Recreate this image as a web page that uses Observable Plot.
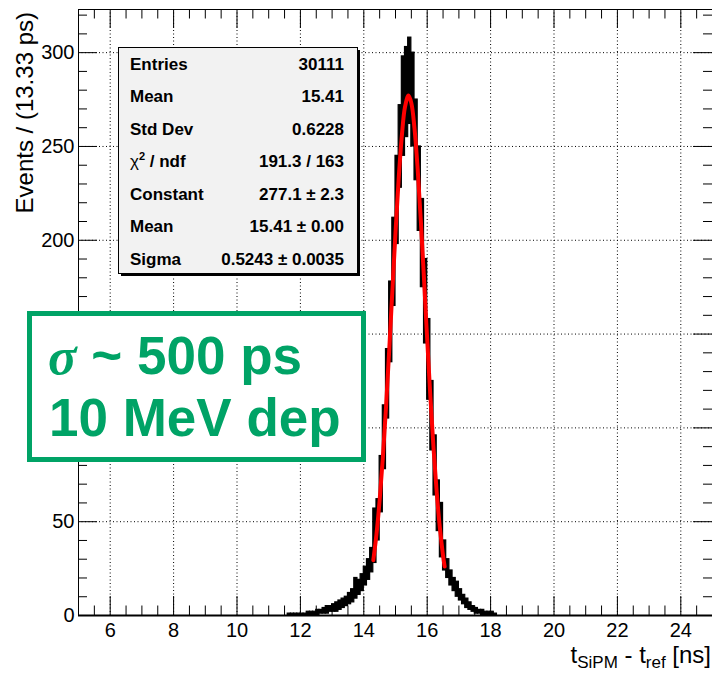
<!DOCTYPE html>
<html><head><meta charset="utf-8">
<script src="https://cdn.jsdelivr.net/npm/d3@7"></script>
<script src="https://cdn.jsdelivr.net/npm/@observablehq/plot@0.6"></script>
<style>
body{margin:0;background:#fff}
#chart{position:relative;width:712px;height:673px;overflow:hidden}
</style>
</head><body><div id="chart"></div>
<script>
// Histogram (coarse 0.1 ns slices): left edge, low and high of the drawn band
const binStart = [11.6,11.7,11.8,11.9,12.0,12.1,12.2,12.3,12.4,12.5,12.6,12.7,12.8,12.9,13.0,13.1,13.2,13.3,13.4,13.5,13.6,13.7,13.8,13.9,14.0,14.1,14.2,14.3,14.4,14.5,14.6,14.7,14.8,14.9,15.0,15.1,15.2,15.3,15.4,15.5,15.6,15.7,15.8,15.9,16.0,16.1,16.2,16.3,16.4,16.5,16.6,16.7,16.8,16.9,17.0,17.1,17.2,17.3,17.4,17.5,17.6,17.7,17.8,17.9,18.0,18.1];
const binLow   = [0,0,0,0,0,0,0,0,0,0,1,1,1,2,2,2,3,4,5,6,7,9,11,13,16,19,23,28,40,55,78,105,135,165,198,228,245,255,262,250,232,205,175,145,115,88,64,45,31,24,20,16,13,10,8,6,4,3,2,1,1,0,0,0,0,0];
const binHigh  = [1,1,1,1,1,1,2,2,2,3,3,4,5,5,6,7,8,9,10,12,14,20,19,22,26,30,36,57,62,85,112,142,178,212,245,272,298,303,308,300,275,250,222,190,158,125,96,72,60,40,30,24,20,18,14,11,9,7,5,4,3,3,2,2,2,1];
const binWidth = 0.1;

// Red Gaussian fit
const fitX = [14.3,14.4,14.5,14.6,14.7,14.8,14.9,15.0,15.1,15.2,15.3,15.41,15.5,15.6,15.7,15.8,15.9,16.0,16.1,16.2,16.3,16.4,16.5,16.55];
const fitY = [29.5,43.3,61.5,84.0,110.8,140.9,172.7,204.1,232.7,255.7,271.1,277.1,273.1,259.5,237.8,210.1,179.1,147.1,116.6,89.1,65.6,46.6,31.9,26.1];

// Axis ticks
const xMajor = [6,8,10,12,14,16,18,20,22,24];
const xMinor = d3.range(5, 25.01, 0.5).filter(d => !xMajor.includes(d));
const yMajor = [0,50,100,150,200,250,300];
const yLabels = [0,50,200,250,300]; // 100 and 150 are hidden behind the annotation box
const yMinor = d3.range(0, 321, 10).filter(d => d % 50 !== 0);

// Stats box
const statLabels = ["Entries","Mean","Std Dev","χ2 / ndf","Constant","Mean","Sigma"];
const statValues = ["30111","15.41","0.6228","191.3 / 163","277.1 ± 2.3","15.41 ± 0.00","0.5243 ± 0.0035"];

const hist = binStart.map((x, i) => ({x1: x, x2: +(x + binWidth).toFixed(2), lo: binLow[i], hi: binHigh[i]}));
const fit = fitX.map((x, i) => ({x, y: fitY[i]}));

const W = 712, H = 673, mL = 78, mR = 0, mT = 9, mB = 58;
const pW = W - mL - mR, pH = H - mT - mB;
const font = "'Liberation Sans', Arial, Helvetica, sans-serif";

const chart = Plot.plot({
  width: W, height: H,
  marginLeft: mL, marginRight: mR, marginTop: mT, marginBottom: mB,
  x: {domain: [5, 25]},
  y: {domain: [0, 323]},
  style: {fontFamily: font, fontSize: "20px", color: "#000", background: "#fff", overflow: "visible"},
  marks: [
    Plot.ruleX(xMajor, {stroke: "#000", strokeWidth: 1, strokeDasharray: "1,2.5"}),
    Plot.ruleY(yMajor.filter(d => d > 0), {stroke: "#000", strokeWidth: 1, strokeDasharray: "1,2.5"}),
    Plot.rect(hist, {x1: "x1", x2: "x2", y1: "lo", y2: "hi", fill: "#000", stroke: "#000", strokeWidth: 1.2}),
    Plot.ruleY([0], {stroke: "#000", strokeWidth: 2}),
    Plot.line(fit, {x: "x", y: "y", stroke: "#ff0000", strokeWidth: 4, curve: "catmull-rom"}),
    Plot.frame({stroke: "#000", strokeWidth: 1}),
    // inward ticks: bottom, top
    Plot.ruleX(xMajor, {insetTop: pH - 19, stroke: "#000"}),
    Plot.ruleX(xMinor, {insetTop: pH - 9.5, stroke: "#000"}),
    Plot.ruleX(xMajor, {insetBottom: pH - 19, stroke: "#000"}),
    Plot.ruleX(xMinor, {insetBottom: pH - 9.5, stroke: "#000"}),
    // left, right
    Plot.ruleY(yMajor, {insetRight: pW - 19, stroke: "#000"}),
    Plot.ruleY(yMinor, {insetRight: pW - 9, stroke: "#000"}),
    Plot.ruleY(yMajor, {insetLeft: pW - 19, stroke: "#000"}),
    Plot.ruleY(yMinor, {insetLeft: pW - 9, stroke: "#000"}),
    Plot.axisX({ticks: xMajor, tickSize: 0, tickPadding: 7, label: null, fontSize: 20}),
    Plot.axisY({ticks: yLabels, tickSize: 0, tickPadding: 4, label: null, fontSize: 20})
  ]
});
document.getElementById("chart").appendChild(chart);

const svg = d3.select(chart);
// Axis titles
svg.append("text")
  .attr("transform", "translate(33,12) rotate(-90)")
  .attr("text-anchor", "end")
  .attr("font-family", font).attr("font-size", 24).attr("fill", "#000")
  .text("Events / (13.33 ps)");
const xl = svg.append("text")
  .attr("x", 711).attr("y", 663)
  .attr("text-anchor", "end")
  .attr("font-family", font).attr("font-size", 24).attr("fill", "#000");
xl.append("tspan").text("t");
xl.append("tspan").attr("font-size", 17).attr("dy", 5).text("SiPM");
xl.append("tspan").attr("dy", -5).text(" - t");
xl.append("tspan").attr("font-size", 17).attr("dy", 5).text("ref");
xl.append("tspan").attr("dy", -5).text(" [ns]");

// Stats box
const sb = svg.append("g").attr("text-anchor", "start");
sb.append("rect").attr("x", 121).attr("y", 50).attr("width", 239).attr("height", 226).attr("fill", "#000");
sb.append("rect").attr("x", 118.5).attr("y", 47.5).attr("width", 239).attr("height", 226)
  .attr("fill", "#f2f2f2").attr("stroke", "#000").attr("stroke-width", 1);
const rowY = [69.5, 102, 134.5, 167, 199.5, 232, 264.5];
statLabels.forEach((lab, i) => {
  const t = sb.append("text").attr("x", 130).attr("y", rowY[i]).attr("text-anchor", "start")
    .attr("font-family", font).attr("font-weight", "bold").attr("font-size", 17).attr("fill", "#000");
  if (lab.startsWith("χ2")) {
    t.append("tspan").attr("font-weight", "normal").text("χ");
    t.append("tspan").attr("font-size", 11).attr("dy", -7).text("2");
    t.append("tspan").attr("dy", 7).text(" / ndf");
  } else t.text(lab);
  sb.append("text").attr("x", 344).attr("y", rowY[i]).attr("text-anchor", "end")
    .attr("font-family", font).attr("font-weight", "bold").attr("font-size", 17).attr("fill", "#000")
    .text(statValues[i]);
});

// Green annotation box
const green = "#00a366";
const gb = svg.append("g").attr("text-anchor", "start");
gb.append("rect").attr("x", 29.5).attr("y", 313.5).attr("width", 334).attr("height", 146)
  .attr("fill", "#fff").attr("stroke", green).attr("stroke-width", 5);
const l1 = gb.append("text").attr("x", 48).attr("y", 374).attr("text-anchor", "start")
  .attr("font-family", font).attr("font-weight", "bold").attr("font-size", 53).attr("fill", green);
l1.append("tspan").attr("font-family", "'Liberation Serif', 'DejaVu Serif', serif")
  .attr("font-style", "italic").attr("font-weight", "bold").text("σ");
l1.append("tspan").text(" ~ 500 ps");
gb.append("text").attr("x", 49).attr("y", 436).attr("text-anchor", "start")
  .attr("font-family", font).attr("font-weight", "bold").attr("font-size", 53).attr("fill", green)
  .text("10 MeV dep");
</script>
</body></html>
